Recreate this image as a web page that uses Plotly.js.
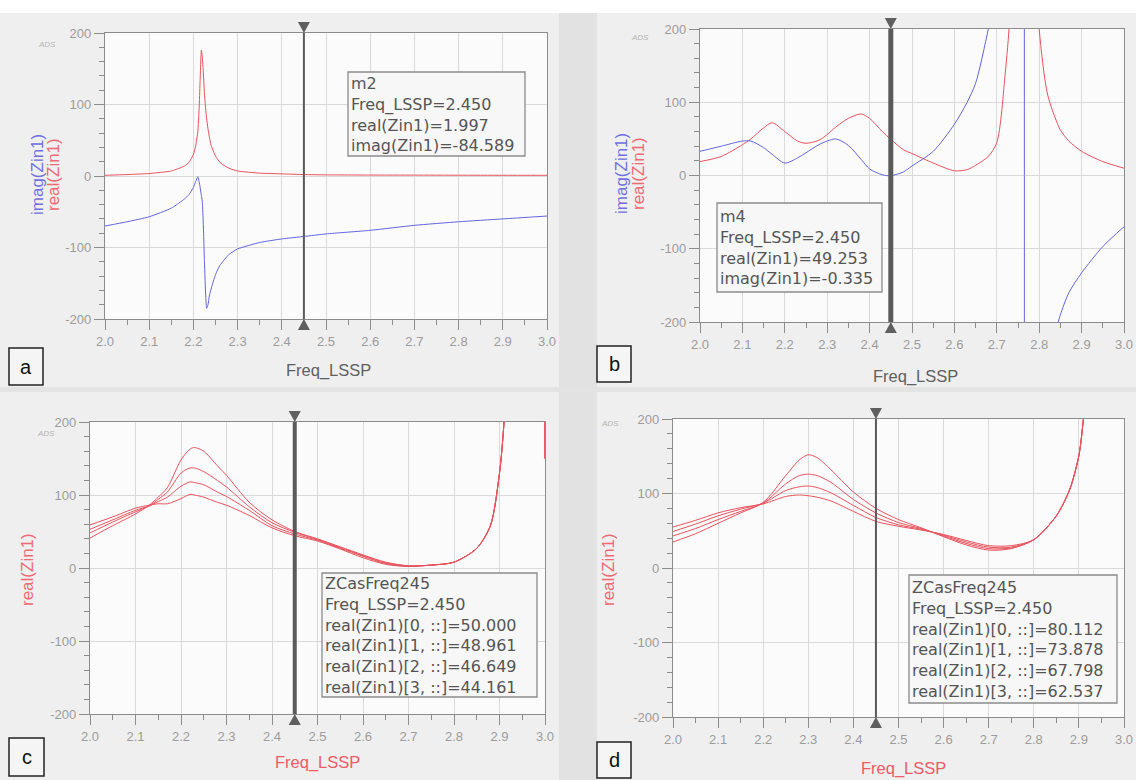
<!DOCTYPE html>
<html><head><meta charset="utf-8">
<script src="https://cdn.plot.ly/plotly-3.0.1.min.js"></script>
<style>html,body{margin:0;padding:0;background:#efefef}#chart{width:1136px;height:780px}</style>
</head><body><div id="chart"></div>
<script>
// ---------------- data ----------------
const xTickVals = [2.0,2.1,2.2,2.3,2.4,2.5,2.6,2.7,2.8,2.9,3.0];
const xTickText = ['2.0','2.1','2.2','2.3','2.4','2.5','2.6','2.7','2.8','2.9','3.0'];
const yTickVals = [-200,-100,0,100,200];
const yTickText = ['-200','-100','0','100','200'];
const markerFreq = 2.45;

// panel a
const aFreq = [2.00,2.05,2.10,2.15,2.18,2.19,2.20,2.205,2.21,2.213,2.215,2.218,2.22,2.222,2.225,2.228,2.23,2.233,2.236,2.24,2.25,2.26,2.28,2.30,2.35,2.40,2.45,2.50,2.60,2.70,2.80,2.90,3.00];
const aReal = [1.0,2.0,3.5,7,14,19,30,42,62,95,130,176,168,150,115,92,80,66,55,43,28,19,11,7,4,3,2.0,1.6,1.3,1.2,1.1,1.0,1.0];
const aImag = [-70,-64,-57,-45,-32,-26,-16,-8,-1,-8,-15,-27,-35,-60,-120,-170,-185,-180,-168,-158,-138,-125,-110,-102,-93,-88,-84.6,-81,-76,-69,-64,-60,-56];

// panel b
const bFreq = [2.00,2.05,2.10,2.12,2.15,2.17,2.20,2.23,2.25,2.28,2.30,2.32,2.35,2.38,2.40,2.43,2.45,2.48,2.50,2.55,2.60,2.63,2.65,2.68,2.70,2.72,2.73,2.74,2.75,2.76,2.764,2.766,2.77,2.78,2.79,2.80,2.82,2.845,2.85,2.87,2.90,2.95,3.00];
const bReal = [19,26,42,50,65,72,60,47,44,48,56,66,78,84,78,60,49.3,35,30,17,6.5,8,14,26,45,140,210,330,600,1400,1800,1800,1300,600,330,200,110,68,62,47,33,19,10];
const bImag = [33,40,47,47,38,29,17,24,31,42,47,50,41,22,9,1,-0.3,5,13,33,70,100,126,200,260,380,480,650,1000,3000,8000,-8000,-3000,-1200,-700,-480,-300,-200,-190,-160,-133,-97,-70];

// panel c
const cFreq = [2.00,2.05,2.10,2.13,2.15,2.17,2.20,2.22,2.23,2.25,2.28,2.30,2.35,2.40,2.45,2.50,2.55,2.60,2.65,2.70,2.75,2.80,2.85,2.88,2.90,2.91,2.92,2.95,2.99,3.00];
const cReal0 = [41,58,74,86,97,110,148,163,165,160,140,127,90,66,50.0,40,29,18,8,3,4,8,27,58,130,200,320,1500,3000,150];
const cReal1 = [48,63,77,85,94,104,130,137,137,132,120,111,84,62,48.96,39,28,17,7,3,4,8,27,58,130,200,320,1500,3000,150];
const cReal2 = [53,66,79,85,91,97,112,118,117,114,104,98,79,58,46.65,38,27,16,6,2.5,4,8,27,58,130,200,320,1500,3000,150];
const cReal3 = [59,70,82,86,88,88,95,101,100,97,90,86,72,55,44.16,37,26,14,5,2,4,8,27,58,130,200,320,1500,3000,150];

// panel d
const dFreq = [2.00,2.05,2.10,2.15,2.20,2.25,2.28,2.30,2.32,2.35,2.40,2.45,2.50,2.55,2.60,2.65,2.70,2.75,2.80,2.85,2.88,2.90,2.91,2.93,2.96,3.00];
const dReal0 = [35,46,60,74,88,124,145,152,148,132,102,80.11,65,54,42,31,24,26,38,70,106,151,200,330,700,1500];
const dReal1 = [43,53,65,76,87,113,124,126,124,115,92,73.88,61,53,43,33,26,27,38,70,106,151,200,330,700,1500];
const dReal2 = [49,59,70,79,87,104,109,110,108,101,84,67.8,58,52,44,35,28,28,38,70,106,151,200,330,700,1500];
const dReal3 = [55,64,74,81,86,96,98,97,95,90,76,62.54,56,51,45,37,30,30,38,70,106,151,200,330,700,1500];

// marker readouts
const boxA = ['m2','Freq_LSSP=2.450','real(Zin1)=1.997','imag(Zin1)=-84.589'];
const boxB = ['m4','Freq_LSSP=2.450','real(Zin1)=49.253','imag(Zin1)=-0.335'];
const boxC = ['ZCasFreq245','Freq_LSSP=2.450','real(Zin1)[0, ::]=50.000','real(Zin1)[1, ::]=48.961','real(Zin1)[2, ::]=46.649','real(Zin1)[3, ::]=44.161'];
const boxD = ['ZCasFreq245','Freq_LSSP=2.450','real(Zin1)[0, ::]=80.112','real(Zin1)[1, ::]=73.878','real(Zin1)[2, ::]=67.798','real(Zin1)[3, ::]=62.537'];

// ---------------- layout helpers ----------------
const W = 1136, H = 780;
const px = v => v / W;
const py = v => 1 - v / H;
const RED = '#e8525c', BLUE = '#6464e0';
const FONT = 'Liberation Sans, Arial, sans-serif';
const BOXFONT = 'DejaVu Sans, Liberation Sans, sans-serif';

const panels = [
  {s:'',  plot:[105,547,33,319], box:[348,525,72,156], text:boxA, mw:2,
   yt:[{t:'imag(Zin1)',c:'#7070e0',x:38},{t:'real(Zin1)',c:'#ee6a74',x:54}], ytY:175,
   xt:{x:328,y:370,c:'#606060'}, ads:[47,44], lab:{t:'a',b:[9,43,348,385]}},
  {s:'2', plot:[700,1124,29,322], box:[717,882,203,292], text:boxB, mw:5,
   yt:[{t:'imag(Zin1)',c:'#7070e0',x:621},{t:'real(Zin1)',c:'#ee6a74',x:638}], ytY:174,
   xt:{x:915,y:376,c:'#606060'}, ads:[640,37], lab:{t:'b',b:[597,631,346,382]}},
  {s:'3', plot:[90,545,422,714], box:[322,537,573,697], text:boxC, mw:4,
   yt:[{t:'real(Zin1)',c:'#ee6a74',x:27}], ytY:570,
   xt:{x:317,y:762,c:'#ee5a66'}, ads:[46,433], lab:{t:'c',b:[9,44,738,776]}},
  {s:'4', plot:[673,1124,419,717], box:[909,1117,575,703], text:boxD, mw:2,
   yt:[{t:'real(Zin1)',c:'#ee6a74',x:608}], ytY:570,
   xt:{x:903,y:768,c:'#ee5a66'}, ads:[610,424], lab:{t:'d',b:[597,631,742,778]}}
];

const layout = {
  width: W, height: H, margin:{l:0,r:0,t:0,b:0},
  paper_bgcolor:'#efefef', plot_bgcolor:'#fbfbfb',
  showlegend:false, shapes:[], annotations:[]
};

// background decoration
layout.shapes.push({type:'rect',xref:'paper',yref:'paper',x0:0,x1:1,y0:py(13),y1:1,fillcolor:'#ffffff',line:{width:0},layer:'below'});
layout.shapes.push({type:'rect',xref:'paper',yref:'paper',x0:px(559),x1:px(597),y0:0,y1:py(13),fillcolor:'#e2e2e2',line:{width:0},layer:'below'});
layout.shapes.push({type:'rect',xref:'paper',yref:'paper',x0:0,x1:1,y0:py(392),y1:py(387),fillcolor:'#e3e3e3',line:{width:0},layer:'below'});

panels.forEach(p => {
  const [x0,x1,y0,y1] = p.plot;
  const xk = 'xaxis'+p.s, yk = 'yaxis'+p.s;
  const xr = 'x'+p.s, yr = 'y'+p.s;
  layout[xk] = {
    domain:[px(x0),px(x1)], anchor:yr, range:[2,3], tickmode:'array', tickvals:xTickVals, ticktext:xTickText,
    showgrid:true, gridcolor:'#dadada', gridwidth:1, zeroline:false,
    showline:true, linecolor:'#8c8c8c', linewidth:1.2, mirror:true,
    ticks:'outside', ticklen:10, tickcolor:'#8c8c8c', ticklabeloverflow:'allow',
    tickfont:{family:FONT,size:13,color:'#9c9c9c'},
    minor:{tickmode:'linear', tick0:2.05, dtick:0.1, ticks:'outside', ticklen:5, tickcolor:'#8c8c8c', showgrid:false},
    fixedrange:true
  };
  layout[yk] = {
    domain:[py(y1),py(y0)], anchor:xr, range:[-200,200], tickmode:'array', tickvals:yTickVals, ticktext:yTickText,
    showgrid:true, gridcolor:'#dadada', gridwidth:1, zeroline:false,
    showline:true, linecolor:'#8c8c8c', linewidth:1.2, mirror:true,
    ticks:'outside', ticklen:10, tickcolor:'#8c8c8c', ticklabeloverflow:'allow',
    tickfont:{family:FONT,size:13,color:'#9c9c9c'},
    minor:{tickmode:'linear', tick0:0, dtick:20, ticks:'outside', ticklen:5, tickcolor:'#8c8c8c', showgrid:false},
    fixedrange:true
  };
  // marker line and triangles
  layout.shapes.push({type:'line', xref:xr, yref:yr+' domain', x0:markerFreq, x1:markerFreq, y0:0, y1:1,
    line:{color:'#5a5a5a', width:p.mw}, layer:'above'});
  layout.shapes.push({type:'path', xref:xr, yref:yr+' domain', xsizemode:'pixel', ysizemode:'pixel',
    xanchor:markerFreq, yanchor:1, path:'M-6,11 L6,11 L0,0 Z', fillcolor:'#5f5f5f', line:{width:0}, layer:'above'});
  layout.shapes.push({type:'path', xref:xr, yref:yr+' domain', xsizemode:'pixel', ysizemode:'pixel',
    xanchor:markerFreq, yanchor:0, path:'M-6,-11 L6,-11 L0,0 Z', fillcolor:'#5f5f5f', line:{width:0}, layer:'above'});
  // readout box
  const [bx0,bx1,by0,by1] = p.box;
  layout.shapes.push({type:'rect', xref:'paper', yref:'paper', x0:px(bx0), x1:px(bx1), y0:py(by1), y1:py(by0),
    fillcolor:'#f7f7f7', line:{color:'#8c8c8c', width:1.3}, layer:'above'});
  layout.annotations.push({xref:'paper', yref:'paper', x:px(bx0+1), y:py((by0+by1)/2),
    xanchor:'left', yanchor:'middle', align:'left', showarrow:false, text:p.text.join('<br>'),
    font:{family:BOXFONT, size:16, color:'#555555'}});
  // axis titles
  p.yt.forEach(o => {
    layout.annotations.push({xref:'paper', yref:'paper', x:px(o.x), y:py(p.ytY), xanchor:'center', yanchor:'middle',
      textangle:-90, showarrow:false, text:o.t, font:{family:FONT, size:17, color:o.c}});
  });
  layout.annotations.push({xref:'paper', yref:'paper', x:px(p.xt.x), y:py(p.xt.y), xanchor:'center', yanchor:'middle',
    showarrow:false, text:'Freq_LSSP', font:{family:FONT, size:16.5, color:p.xt.c}});
  layout.annotations.push({xref:'paper', yref:'paper', x:px(p.ads[0]), y:py(p.ads[1]), xanchor:'center', yanchor:'middle',
    showarrow:false, text:'ADS', font:{family:FONT, size:8, color:'#b4b4b4', style:'italic'}});
  // panel label
  const [lx0,lx1,ly0,ly1] = p.lab.b;
  layout.shapes.push({type:'rect', xref:'paper', yref:'paper', x0:px(lx0), x1:px(lx1), y0:py(ly1), y1:py(ly0),
    fillcolor:'#f5f5f5', line:{color:'#222', width:1.5}, layer:'above'});
  layout.annotations.push({xref:'paper', yref:'paper', x:px((lx0+lx1)/2), y:py((ly0+ly1)/2), xanchor:'center', yanchor:'middle',
    showarrow:false, text:p.lab.t, font:{family:FONT, size:20, color:'#111'}});
});

function tr(x, y, ax, color, shape, sm) {
  return {x:x, y:y, xaxis:'x'+ax, yaxis:'y'+ax, type:'scatter', mode:'lines',
    line:{color:color, width:1, shape:shape||'linear', smoothing:sm||0.8}, hoverinfo:'skip'};
}

const data = [
  tr(aFreq, aReal, '', RED, 'spline', 0.5),
  tr(aFreq, aImag, '', BLUE, 'spline', 0.5),
  tr(bFreq, bReal, '2', RED, 'spline'),
  tr(bFreq, bImag, '2', BLUE, 'spline'),
  tr(cFreq, cReal0, '3', RED, 'spline'),
  tr(cFreq, cReal1, '3', RED, 'spline'),
  tr(cFreq, cReal2, '3', RED, 'spline'),
  tr(cFreq, cReal3, '3', RED, 'spline'),
  tr(dFreq, dReal0, '4', RED, 'spline'),
  tr(dFreq, dReal1, '4', RED, 'spline'),
  tr(dFreq, dReal2, '4', RED, 'spline'),
  tr(dFreq, dReal3, '4', RED, 'spline')
];

Plotly.newPlot('chart', data, layout, {staticPlot:true, displayModeBar:false});
</script>
</body></html>
